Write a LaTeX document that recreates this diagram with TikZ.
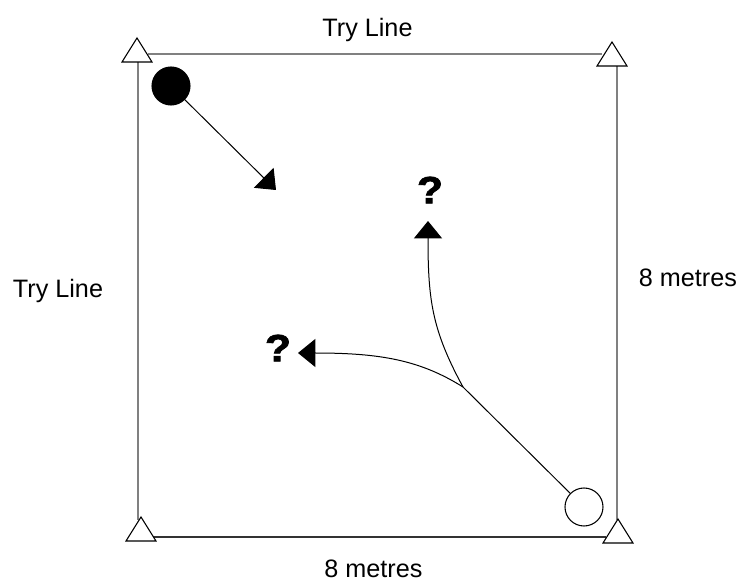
\documentclass[tikz,border=0pt]{standalone}
\usepackage{fontspec}
\setmainfont{Liberation Sans}
\newfontfamily\qfont[BoldFeatures={FakeBold=2}]{Liberation Sans}
\usetikzlibrary{arrows.meta}
\begin{document}
\begin{tikzpicture}[x=0.75pt,y=-0.75pt,
  lbl/.style={font=\fontsize{18.9}{22}\selectfont, anchor=base, inner sep=0},
  qm/.style={font=\qfont\fontsize{28.5}{32}\selectfont\bfseries, inner sep=0, xscale=1.12},
  edgeline/.style={draw=black!50, line width=1.5pt},
  ball/.style={circle, draw=black, line width=0.8pt, minimum size=28.5pt, inner sep=0},
  run/.style={draw=black, line width=0.75pt, -{Triangle[length=13pt,width=21pt]}},
  conestyle/.style={draw=black, fill=white, line width=0.8pt, line join=miter},
  cone/.pic={\draw[conestyle] (-15,0) -- (15,0) -- (0,-24) -- cycle;}
]
\useasboundingbox (0,0) rectangle (744,581);
% square sides
\draw[edgeline] (138,60) -- (138,520);
\draw[edgeline] (148,54) -- (602,54);
\draw[edgeline] (617,64) -- (617,520);
\draw[draw=black!80, line width=1.1pt] (150,537) -- (606,537);
% corner cones
\pic at (137,62) {cone};
\pic at (612,66) {cone};
\pic at (141,541) {cone};
\pic at (618,543) {cone};
% balls
\node[ball, fill=black] (fb) at (171,86) {};
\node[ball, fill=white] (ob) at (584,507) {};
% runs
\coordinate (t1) at (276,190);
\coordinate (fork) at (463,387);
\coordinate (t2) at (428,221);
\coordinate (t3) at (298,353);
\draw[run] (fb) -- (t1);
\draw[line width=0.75pt] (ob) -- (fork);
\draw[run] (fork) .. controls (432,330) and (428,300) .. (t2);
\draw[run] (fork) .. controls (420,360) and (380,353) .. (t3);
% labels
\node[lbl] (top) at (367.5,37) {Try Line};
\node[lbl] (left) at (58,298) {Try Line};
\node[lbl] (right) at (688,287) {8 metres};
\node[lbl] (bottom) at (373.5,577) {8 metres};
\node[qm] (q1) at (430,190) {?};
\node[qm] (q2) at (278,348) {?};
\end{tikzpicture}
\end{document}
